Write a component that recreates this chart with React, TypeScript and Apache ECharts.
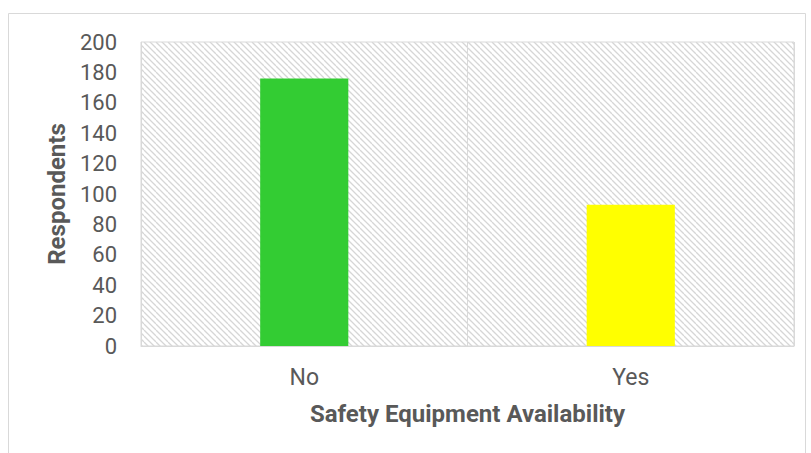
import React, { useEffect, useRef } from "react";
import * as echarts from "echarts";

const categories = ["No", "Yes"];
const respondents = [176, 93];
const barColors = ["#33CC33", "#FFFF00"];
const yTicks = { min: 0, max: 200, interval: 20 };

const tileSvg =
  '<svg xmlns="http://www.w3.org/2000/svg" width="12" height="12">' +
  [-12, -6, 0, 6, 12]
    .map((c) => `<line x1="0" y1="${c}" x2="12" y2="${c + 12}" stroke="#d6d6d6" stroke-width="1.3"/>`)
    .join("") +
  "</svg>";
const tileUrl = "data:image/svg+xml;charset=utf-8," + encodeURIComponent(tileSvg);

export default function App() {
  const ref = useRef<HTMLDivElement>(null);
  useEffect(() => {
    if (!ref.current) return;
    const chart = echarts.init(ref.current, undefined, { renderer: "svg" });
    const txt = "#595959";
    chart.setOption({
      animation: false,
      backgroundColor: "#ffffff",
      textStyle: { fontFamily: "Roboto" },
      graphic: [
        {
          type: "rect",
          shape: { x: 8.5, y: 13.5, width: 797, height: 460 },
          style: { fill: "none", stroke: "#d9d9d9", lineWidth: 1 },
          silent: true,
          z: -10,
        },
      ],
      grid: {
        left: 141,
        right: 17,
        top: 42,
        bottom: 107,
        show: true,
        borderColor: "#d9d9d9",
        borderWidth: 1,
        backgroundColor: { image: tileUrl, repeat: "repeat" } as any,
      },
      xAxis: {
        type: "category",
        data: categories,
        axisLine: { show: true, lineStyle: { color: "#d9d9d9", width: 1 } },
        axisTick: { show: false },
        splitLine: { show: true, lineStyle: { color: "#d9d9d9", width: 1 } },
        axisLabel: { color: txt, fontSize: 23, margin: 20, fontFamily: "Roboto" },
        name: "Safety Equipment Availability",
        nameLocation: "middle",
        nameGap: 56,
        nameTextStyle: { color: txt, fontSize: 24, fontWeight: "bold", fontFamily: "Roboto" },
      },
      yAxis: {
        type: "value",
        min: yTicks.min,
        max: yTicks.max,
        interval: yTicks.interval,
        axisLine: { show: false },
        axisTick: { show: false },
        splitLine: { show: false },
        axisLabel: { color: txt, fontSize: 22, margin: 24, fontFamily: "Roboto" },
        name: "Respondents",
        nameLocation: "middle",
        nameGap: 70,
        nameTextStyle: { color: txt, fontSize: 24, fontWeight: "bold", fontFamily: "Roboto" },
      },
      series: [
        {
          type: "bar",
          data: respondents.map((v, i) => ({ value: v, itemStyle: { color: barColors[i] } })),
          barWidth: "27%",
        },
      ],
    });
    return () => chart.dispose();
  }, []);
  return (
    <div
      ref={ref}
      style={{ position: "fixed", left: 0, top: 0, width: 811, height: 453 }}
    />
  );
}
